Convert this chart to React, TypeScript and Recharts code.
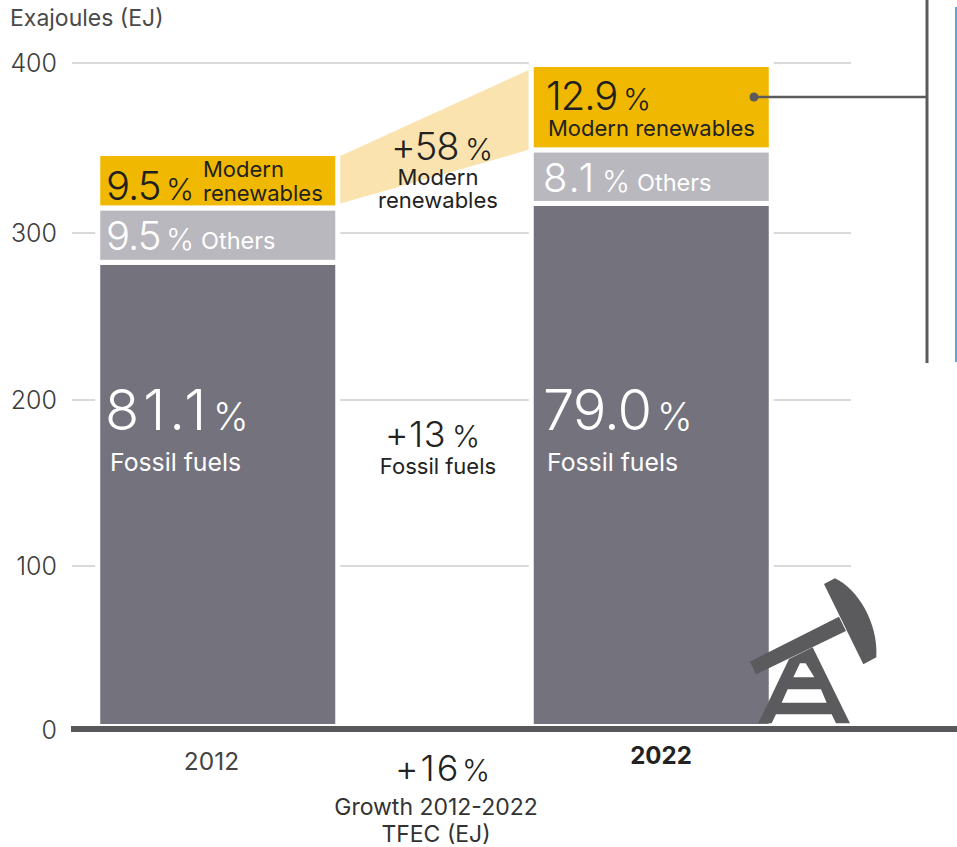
import { Bar, CartesianGrid, ComposedChart, Line, XAxis, YAxis } from "recharts";

const years = ["2012", "2022"];
const fossilFuels = [279, 314.4];
const others = [32.7, 32.2];
const modernRenewables = [32.7, 51.3];
const yTicks = [0, 100, 200, 300, 400];
const yTickPixels = [730, 566, 400, 233, 63];

const WIDTH = 957;
const HEIGHT = 847;
const PLOT_TOP = 63;
const PLOT_LEFT = 72;
const PLOT_RIGHT = 851;
const BAR_STEP = 433.5;
const FONT = "Inter, 'Liberation Sans', sans-serif";

const data = years.map((year, i) => ({
  year,
  fossil: fossilFuels[i],
  others: others[i],
  modern: modernRenewables[i],
}));

// The printed gridlines are not quite evenly spaced, so the tick axis is piecewise linear
function makeTickScale(): any {
  let dom: number[] = [0, 400];
  let rng: number[] = [730, PLOT_TOP];
  const scale: any = (v: number) => {
    for (let i = 0; i < yTicks.length - 1; i++) {
      if (v <= yTicks[i + 1]) {
        const t = (v - yTicks[i]) / (yTicks[i + 1] - yTicks[i]);
        return yTickPixels[i] + t * (yTickPixels[i + 1] - yTickPixels[i]);
      }
    }
    return yTickPixels[yTickPixels.length - 1];
  };
  scale.domain = (d?: number[]) => {
    if (!d) return dom;
    dom = d;
    return scale;
  };
  scale.range = (r?: number[]) => {
    if (!r) return rng;
    rng = r;
    return scale;
  };
  scale.ticks = () => yTicks;
  scale.copy = () => makeTickScale();
  return scale;
}

const tickScale = makeTickScale();

function YTick({ y, payload }: any) {
  return (
    <text x={57} y={y + 9} textAnchor="end" fontFamily={FONT} fontSize={25} fontWeight={300} fill="#3c3c3c">
      {payload.value}
    </text>
  );
}

function YearTick({ x, payload }: any) {
  const is2022 = payload.value === "2022";
  return (
    <text
      x={x + (is2022 ? 10 : -6)}
      y={is2022 ? 764 : 770}
      textAnchor="middle"
      fontFamily={FONT}
      fontSize={is2022 ? 24 : 24.5}
      fontWeight={is2022 ? 700 : 400}
      fill={is2022 ? "#222" : "#444"}
    >
      {payload.value}
    </text>
  );
}

// Top segment; the 2022 one also draws the wedge back to the 2012 segment
function ModernSegment({ x, y, width, height, index, fill }: any) {
  const rect = <rect x={x} y={y} width={width} height={height} fill={fill} stroke="#fff" strokeWidth={5} />;
  if (index !== 1) return rect;
  const perEJ = height / modernRenewables[1];
  const total = (i: number) => fossilFuels[i] + others[i] + modernRenewables[i];
  const leftTop = y + (total(1) - total(0)) * perEJ;
  const leftBottom = leftTop + modernRenewables[0] * perEJ;
  const rightX = x - 2.5;
  const leftX = x - BAR_STEP + width + 2.5;
  const wedge = `${leftX},${leftTop + 2.5} ${rightX},${y + 5.5} ${rightX},${y + height} ${leftX},${leftBottom - 4.5}`;
  return (
    <g>
      <polygon points={wedge} fill="#fae3ae" />
      {rect}
    </g>
  );
}

function PlainSegment({ x, y, width, height, fill }: any) {
  return <rect x={x} y={y} width={width} height={height} fill={fill} stroke="#fff" strokeWidth={5} />;
}

// Share figure with its smaller percent sign placed separately
function Pct({ x, y, value, size, pctX, pctSize, fill, spacing = -1 }: any) {
  const common = { y, fontFamily: FONT, fill, fontWeight: 300 };
  return (
    <g>
      <text {...common} x={x} fontSize={size} letterSpacing={spacing}>
        {value}
      </text>
      <text {...common} x={pctX} fontSize={pctSize}>
        %
      </text>
    </g>
  );
}

function Caption({ x, y, size = 22, fill = "#222", anchor = "start", children }: any) {
  return (
    <text x={x} y={y} fontFamily={FONT} fontSize={size} fill={fill} textAnchor={anchor} fontWeight={400}>
      {children}
    </text>
  );
}

function PumpJack() {
  const frame =
    "M355 490 L447 297 L518 262 L630 490 L588 490 L575 463 L408 463 L395 490 Z " +
    "M480 310 L497 310 L523 352 L460 352 Z M443 388 L543 388 L560 428 L425 428 Z";
  return (
    <g transform="translate(640 560) scale(0.3333)" fill="#5b5b5d">
      <polygon points="330,305 348,343 618,213 597,170" />
      <path d="M552 72 L585 55 C650 85 715 185 709 292 L670 313 Z" />
      <path d={frame} fillRule="evenodd" />
    </g>
  );
}

function Annotations() {
  return (
    <svg width={WIDTH} height={HEIGHT} style={{ position: "absolute", left: 0, top: 0, pointerEvents: "none" }}>
      <Caption x={10} y={26} size={23} fill="#4a4a4a">Exajoules (EJ)</Caption>

      <Pct x={106} y={200} value="9.5" size={40} pctX={166} pctSize={30} fill="#1f1f1f" />
      <Caption x={203} y={177}>Modern</Caption>
      <Caption x={203} y={201}>renewables</Caption>
      <Pct x={106} y={250} value="9.5" size={40} pctX={166} pctSize={30} fill="#fff" />
      <Caption x={201} y={249} size={23.5} fill="#fff">Others</Caption>
      <Pct x={105} y={430} value="81.1" size={56} pctX={213} pctSize={38} spacing={4} fill="#fff" />
      <Caption x={110} y={471} size={24.8} fill="#fff">Fossil fuels</Caption>

      <Pct x={546} y={110} value="12.9" size={40} pctX={623} pctSize={30} fill="#1f1f1f" />
      <Caption x={548} y={136}>Modern renewables</Caption>
      <Pct x={543} y={192} value="8.1" size={40} pctX={602} pctSize={30} spacing={2} fill="#fff" />
      <Caption x={637} y={191} size={23.5} fill="#fff">Others</Caption>
      <Pct x={543} y={430} value="79.0" size={56} pctX={657} pctSize={38} fill="#fff" />
      <Caption x={547} y={471} size={24.8} fill="#fff">Fossil fuels</Caption>

      <Pct x={391} y={160} value="+58" size={38} pctX={465} pctSize={30} fill="#222" />
      <Caption x={438} y={185} anchor="middle">Modern</Caption>
      <Caption x={438} y={208} anchor="middle">renewables</Caption>
      <Pct x={385} y={447} value="+13" size={36} pctX={452} pctSize={30} spacing={0.5} fill="#222" />
      <Caption x={438} y={474} anchor="middle">Fossil fuels</Caption>
      <Pct x={395} y={781} value="+16" size={36} pctX={462} pctSize={30} spacing={2} fill="#222" />
      <Caption x={436} y={815} size={23} fill="#333" anchor="middle">Growth 2012-2022</Caption>
      <Caption x={436} y={842} size={23} fill="#333" anchor="middle">TFEC (EJ)</Caption>

      {/* baseline, runs past the plot to the page edge */}
      <rect x={71} y={726} width={886} height={6} fill="#58585a" />
      <PumpJack />

      {/* callout to the side panel */}
      <circle cx={754} cy={97} r={4.5} fill="#5b5b5d" />
      <line x1={754} y1={97} x2={927} y2={97} stroke="#5b5b5d" strokeWidth={2.5} />
      <line x1={927} y1={0} x2={927} y2={363} stroke="#5b5b5d" strokeWidth={3} />
      <line x1={956} y1={7} x2={956} y2={362} stroke="#5aa5dc" strokeWidth={2} />
    </svg>
  );
}

export default function App() {
  return (
    <div style={{ position: "absolute", left: 0, top: 0, width: WIDTH, height: HEIGHT, background: "#fff" }}>
      <ComposedChart
        width={WIDTH}
        height={HEIGHT}
        data={data}
        barSize={240}
        margin={{ top: PLOT_TOP, right: WIDTH - PLOT_RIGHT, bottom: 0, left: 0 }}
      >
        <CartesianGrid yAxisId="ticks" vertical={false} stroke="#d9d9d9" strokeWidth={2} />
        <XAxis
          dataKey="year"
          axisLine={false}
          tickLine={false}
          height={117}
          padding={{ left: -71.25, right: -16.75 }}
          tick={<YearTick />}
          interval={0}
        />
        <YAxis
          yAxisId="ticks"
          width={PLOT_LEFT}
          scale={tickScale}
          domain={[0, 400]}
          ticks={yTicks}
          interval={0}
          axisLine={false}
          tickLine={false}
          tick={<YTick />}
        />
        <YAxis yAxisId="bars" hide domain={[-2.1, 398.8]} />
        {/* keeps the tick axis attached to a series so its ticks get resolved */}
        <Line yAxisId="ticks" dataKey="fossil" stroke="none" dot={false} legendType="none" isAnimationActive={false} />
        <Bar yAxisId="bars" dataKey="fossil" stackId="a" fill="#74727d" shape={<PlainSegment />} isAnimationActive={false} />
        <Bar yAxisId="bars" dataKey="others" stackId="a" fill="#b9b8be" shape={<PlainSegment />} isAnimationActive={false} />
        <Bar yAxisId="bars" dataKey="modern" stackId="a" fill="#f0b800" shape={<ModernSegment />} isAnimationActive={false} />
      </ComposedChart>
      <Annotations />
    </div>
  );
}
